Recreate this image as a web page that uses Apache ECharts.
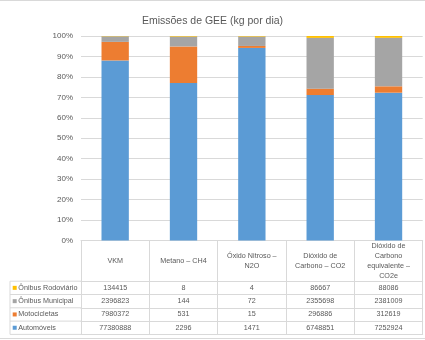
<!DOCTYPE html>
<html><head><meta charset="utf-8">
<script src="https://cdn.jsdelivr.net/npm/echarts@6/dist/echarts.min.js"></script>
<style>html,body{margin:0;padding:0;background:#fff}#c{width:425px;height:340px}</style>
</head><body><div id="c"></div>
<script>
const categories = ['VKM', 'Metano – CH4', 'Óxido Nitroso –\nN2O', 'Dióxido de\nCarbono – CO2', 'Dióxido de\nCarbono\nequivalente –\nCO2e'];
const seriesNames = ['Automóveis', 'Motocicletas', 'Ônibus Municipal', 'Ônibus Rodoviário'];
const automoveis = [77380888, 2296, 1471, 6748851, 7252924];
const motocicletas = [7980372, 531, 15, 296886, 312619];
const onibusMunicipal = [2396823, 144, 72, 2355698, 2381009];
const onibusRodoviario = [134415, 8, 4, 86667, 88086];
const colors = ['#5B9BD5', '#ED7D31', '#A5A5A5', '#FFC000'];

const raw = [automoveis, motocicletas, onibusMunicipal, onibusRodoviario];
const totals = categories.map((_, i) => raw.reduce((s, a) => s + a[i], 0));
const pct = raw.map(a => a.map((v, i) => v / totals[i] * 100));

// layout constants
const W = 425, H = 340;
const gridLeft = 81, gridRight = 2.3, gridTop = 36, axisY = 240.5;
const headerH = 40.7, rowH = 13.3;
const tableLeft = 10;
const lineColor = '#d9d9d9';
const textColor = '#595959';
const font = 'Liberation Sans, Arial, sans-serif';
const tFont = 7.2;

// table rows (top to bottom): reversed series order
const tableRows = [3, 2, 1, 0];

const xAxes = [{
  type: 'category', data: categories, position: 'bottom',
  axisLine: { show: true, lineStyle: { color: lineColor } },
  axisTick: { show: true, length: headerH + rowH * 4, lineStyle: { color: lineColor } },
  axisLabel: { interval: 0, margin: headerH / 2, verticalAlign: 'middle', lineHeight: 10, fontSize: tFont, color: textColor, fontFamily: font },
  splitLine: { show: false }
}];
tableRows.forEach((si, r) => {
  xAxes.push({
    type: 'category', data: categories, position: 'bottom', offset: headerH + rowH * r,
    axisLine: { show: true, lineStyle: { color: lineColor } },
    axisTick: { show: false },
    axisLabel: { interval: 0, margin: rowH / 2, verticalAlign: 'middle', fontSize: tFont, color: textColor, fontFamily: font,
      formatter: (v, idx) => String(raw[si][idx]) },
    splitLine: { show: false }
  });
});
xAxes.push({
  type: 'category', data: categories, position: 'bottom', offset: headerH + rowH * 4,
  axisLine: { show: true, lineStyle: { color: lineColor } },
  axisTick: { show: false }, axisLabel: { show: false }, splitLine: { show: false }
});

const graphics = [
  { type: 'rect', shape: { x: -1, y: 0.5, width: W + 2, height: 338 }, style: { fill: 'none', stroke: lineColor, lineWidth: 1 }, silent: true },
  { type: 'line', shape: { x1: tableLeft, y1: axisY + headerH, x2: tableLeft, y2: axisY + headerH + rowH * 4 }, style: { stroke: lineColor, lineWidth: 1 }, silent: true }
];
for (let r = 0; r <= 4; r++) {
  const y = axisY + headerH + rowH * r;
  graphics.push({ type: 'line', shape: { x1: tableLeft, y1: y, x2: gridLeft, y2: y }, style: { stroke: lineColor, lineWidth: 1 }, silent: true });
}

const chart = echarts.init(document.getElementById('c'), null, { renderer: 'canvas' });
chart.setOption({
  animation: false,
  backgroundColor: '#fff',
  title: { text: 'Emissões de GEE (kg por dia)', left: 'center', top: 11,
    textStyle: { fontSize: 10.5, fontWeight: 'normal', color: textColor, fontFamily: font } },
  legend: {
    orient: 'vertical', left: 12.7, top: axisY + headerH, padding: 0, itemGap: 0,
    itemWidth: 4, itemHeight: 4,
    data: tableRows.map(i => ({ name: seriesNames[i], icon: 'rect' })),
    textStyle: { fontSize: tFont, color: textColor, lineHeight: rowH, fontFamily: font, padding: [0, 0, 0, -3.4] },
    selectedMode: false
  },
  grid: { left: gridLeft, right: gridRight, top: gridTop, bottom: H - axisY, containLabel: false },
  xAxis: xAxes,
  yAxis: {
    type: 'value', min: 0, max: 100, interval: 10,
    axisLine: { show: false }, axisTick: { show: false },
    axisLabel: { formatter: '{value}%', fontSize: 8, color: textColor, margin: 8, fontFamily: font },
    splitLine: { lineStyle: { color: lineColor } }
  },
  graphic: graphics,
  series: seriesNames.map((n, i) => ({
    name: n, type: 'bar', stack: 'total', xAxisIndex: 0, barWidth: '40%',
    itemStyle: { color: colors[i] },
    data: pct[i]
  }))
});
</script></body></html>
